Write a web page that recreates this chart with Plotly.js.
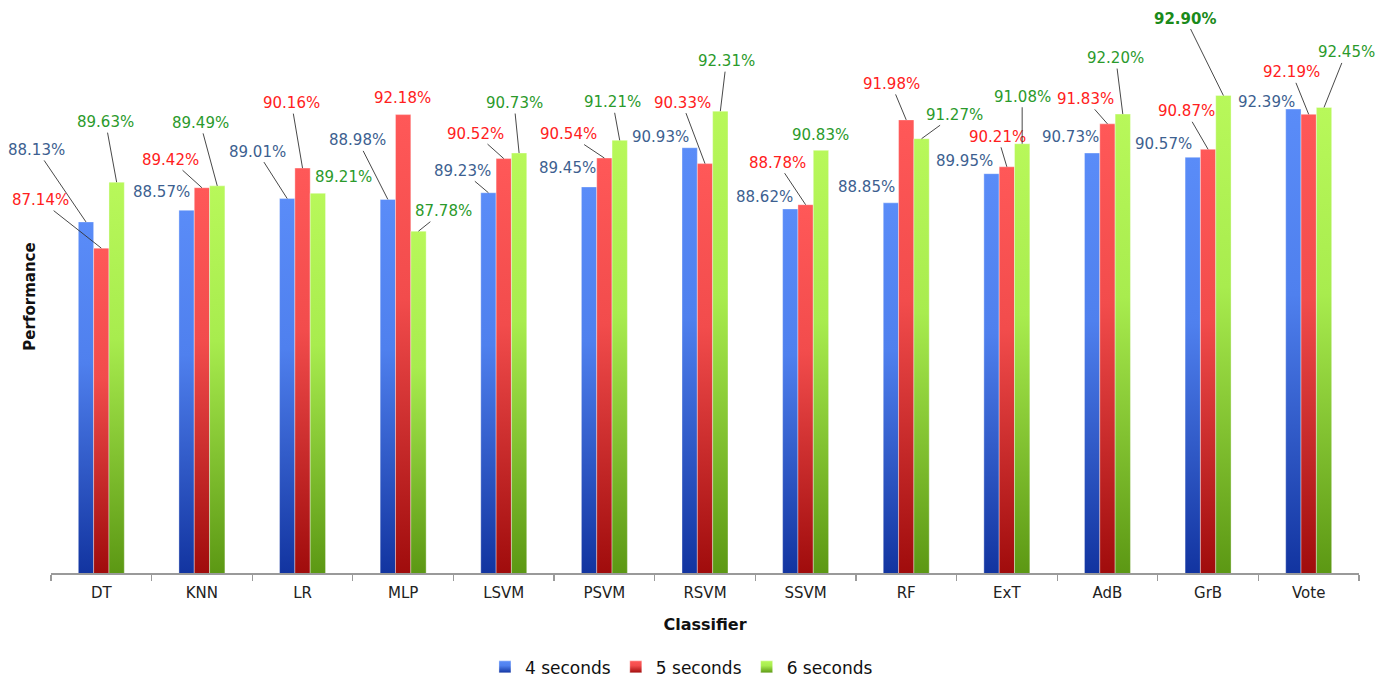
<!DOCTYPE html>
<html>
<head>
<meta charset="utf-8">
<script src="https://cdn.plot.ly/plotly-3.0.1.min.js"></script>
<style>
  html, body { margin: 0; padding: 0; background: #fff; }
  #chart { width: 1389px; height: 680px; }
</style>
</head>
<body>
<div id="chart"></div>
<script>
// Classifiers on the x axis
const classifiers = ['DT', 'KNN', 'LR', 'MLP', 'LSVM', 'PSVM', 'RSVM', 'SSVM', 'RF', 'ExT', 'AdB', 'GrB', 'Vote'];

// Performance (%) for each window length
const perf4s = [88.13, 88.57, 89.01, 88.98, 89.23, 89.45, 90.93, 88.62, 88.85, 89.95, 90.73, 90.57, 92.39];
const perf5s = [87.14, 89.42, 90.16, 92.18, 90.52, 90.54, 90.33, 88.78, 91.98, 90.21, 91.83, 90.87, 92.19];
const perf6s = [89.63, 89.49, 89.21, 87.78, 90.73, 91.21, 92.31, 90.83, 91.27, 91.08, 92.20, 92.90, 92.45];

const seriesNames = ['4 seconds', '5 seconds', '6 seconds'];

// Label placement (pixel offsets of each value label from its bar top)
const labelDx = [
  [-49, -25, -30, -30, -26, -22, -29, -26, -24, -27, -22, -29, -27],
  [-61, -31, -11, -1, -28, -36, -23, -28, -15, -9, -22, -22, -17],
  [-11, -17, 26, 25, -5, -7, 6, 0, 33, 0, -7, -38, 22]
];
const labelDy = [
  [-72, -18, -47, -59, -22, -19, -11, -12, -16, -13, -16, -13, -7],
  [-48, -28, -65, -17, -25, -24, -61, -42, -36, -30, -25, -38, -42],
  [-60, -63, -16, -20, -50, -38, -50, -15, -24, -47, -56, -77, -55]
];
// Whether a leader line joins the label to its bar
const leader = [
  [1, 0, 1, 1, 1, 0, 0, 0, 0, 0, 0, 0, 0],
  [1, 1, 1, 0, 1, 1, 1, 1, 1, 1, 1, 1, 1],
  [1, 1, 0, 1, 1, 1, 1, 0, 1, 1, 1, 1, 1]
];

const series = [perf4s, perf5s, perf6s];
const baseColors = ['#3f6fe0', '#e23a3a', '#8fd23a'];
// top, upper-middle and bottom shades of each series
const gradStops = [
  ['#5a8cf8', '#4f80ee', '#1234a0'],
  ['#ff5858', '#f24c4c', '#a00c0c'],
  ['#b8f85a', '#a8ec4e', '#5c9814']
];
const labelColors = ['#3d5f90', '#ff2020', '#2b9a2b'];
const font = 'DejaVu Sans, Verdana, sans-serif';

const bargap = 0.543;
const barW = (1 - bargap) / 3;

const traces = series.map((vals, s) => ({
  type: 'bar',
  name: seriesNames[s],
  x: classifiers,
  y: vals,
  marker: { color: baseColors[s], line: { width: 0.6, color: 'rgba(255,255,255,0.6)' } },
  hoverinfo: 'x+y'
}));

const overallMax = Math.max(...perf4s, ...perf5s, ...perf6s);

const annotations = [];
series.forEach((vals, s) => {
  vals.forEach((v, i) => {
    const isMax = v === overallMax;
    annotations.push({
      x: i + (s - 1) * barW,
      y: v,
      xref: 'x',
      yref: 'y',
      text: isMax ? '<b>' + v.toFixed(2) + '%</b>' : v.toFixed(2) + '%',
      showarrow: true,
      arrowhead: 0,
      arrowwidth: 0.9,
      arrowcolor: leader[s][i] ? '#333333' : 'rgba(0,0,0,0)',
      standoff: 0,
      ax: labelDx[s][i],
      ay: labelDy[s][i],
      font: { family: font, size: 15, color: isMax ? '#1a8a1a' : labelColors[s] }
    });
  });
});

const layout = {
  width: 1389,
  height: 680,
  paper_bgcolor: '#ffffff',
  plot_bgcolor: '#ffffff',
  margin: { l: 51, r: 30, t: 20, b: 107, autoexpand: false },
  barmode: 'group',
  bargap: bargap,
  bargroupgap: 0,
  showlegend: true,
  legend: {
    orientation: 'h',
    x: 0.482,
    xanchor: 'center',
    y: -0.138,
    yanchor: 'top',
    font: { family: font, size: 17, color: '#111' },
    itemwidth: 30
  },
  xaxis: {
    type: 'category',
    range: [-0.5, 12.5],
    automargin: false,
    showline: true,
    linecolor: '#9a9a9a',
    linewidth: 1.5,
    ticks: 'outside',
    tickson: 'boundaries',
    ticklen: 6,
    tickcolor: '#9a9a9a',
    tickwidth: 1.2,
    ticklabelstandoff: 5,
    showgrid: false,
    tickfont: { family: font, size: 15, color: '#222' },
    title: { text: '<b>Classifier</b>', font: { family: font, size: 16, color: '#111' }, standoff: 18 }
  },
  yaxis: {
    range: [74.88, 95.75],
    automargin: false,
    showline: false,
    showgrid: false,
    zeroline: false,
    showticklabels: false,
    ticks: '',
    title: { text: '<b>Performance</b>', font: { family: font, size: 15, color: '#111' }, standoff: 10 }
  },
  annotations: annotations
};

const gd = document.getElementById('chart');
const NS = 'http://www.w3.org/2000/svg';

function makeGradient(defs, id, stops, attrs) {
  let g = document.getElementById(id);
  if (g) g.remove();
  g = document.createElementNS(NS, 'linearGradient');
  g.setAttribute('id', id);
  Object.keys(attrs).forEach(k => g.setAttribute(k, attrs[k]));
  [[0, stops[0]], [0.4, stops[1]], [1, stops[2]]].forEach(([o, c]) => {
    const st = document.createElementNS(NS, 'stop');
    st.setAttribute('offset', String(o));
    st.setAttribute('stop-color', c);
    g.appendChild(st);
  });
  defs.appendChild(g);
}

// Vertical light-to-dark shading: each bar runs from its own top down to the x axis
function applyShade() {
  const svg = gd.querySelector('svg.main-svg');
  if (!svg) return;
  let defs = svg.querySelector('defs');
  if (!defs) { defs = document.createElementNS(NS, 'defs'); svg.insertBefore(defs, svg.firstChild); }
  const axisBottom = gd._fullLayout.yaxis._length;

  let barIdx = 0;
  gd.querySelectorAll('g.trace.bars').forEach(tr => {
    let s = barIdx;
    const d = tr.__data__;
    if (d && d[0] && d[0].trace && typeof d[0].trace.index === 'number') s = d[0].trace.index;
    tr.querySelectorAll('g.point path').forEach((p, i) => {
      const nums = (p.getAttribute('d') || '').match(/-?\d+(\.\d+)?/g);
      if (!nums || nums.length < 3) return;
      const top = Math.min(parseFloat(nums[1]), parseFloat(nums[2]));
      const id = 'barShade_' + s + '_' + i;
      makeGradient(defs, id, gradStops[s], {
        gradientUnits: 'userSpaceOnUse', x1: '0', x2: '0', y1: String(top), y2: String(axisBottom)
      });
      p.style.setProperty('fill', 'url(#' + id + ')', 'important');
    });
    barIdx++;
  });

  gd.querySelectorAll('.legend .traces').forEach((tr, s) => {
    const id = 'legendShade_' + s;
    makeGradient(defs, id, gradStops[s], { x1: '0', y1: '0', x2: '0', y2: '1' });
    tr.querySelectorAll('.legendpoints path').forEach(p => p.style.setProperty('fill', 'url(#' + id + ')', 'important'));
  });
}

Plotly.newPlot(gd, traces, layout, { displayModeBar: false, staticPlot: true }).then(() => {
  applyShade();
  gd.on('plotly_afterplot', applyShade);
});
</script>
</body>
</html>
